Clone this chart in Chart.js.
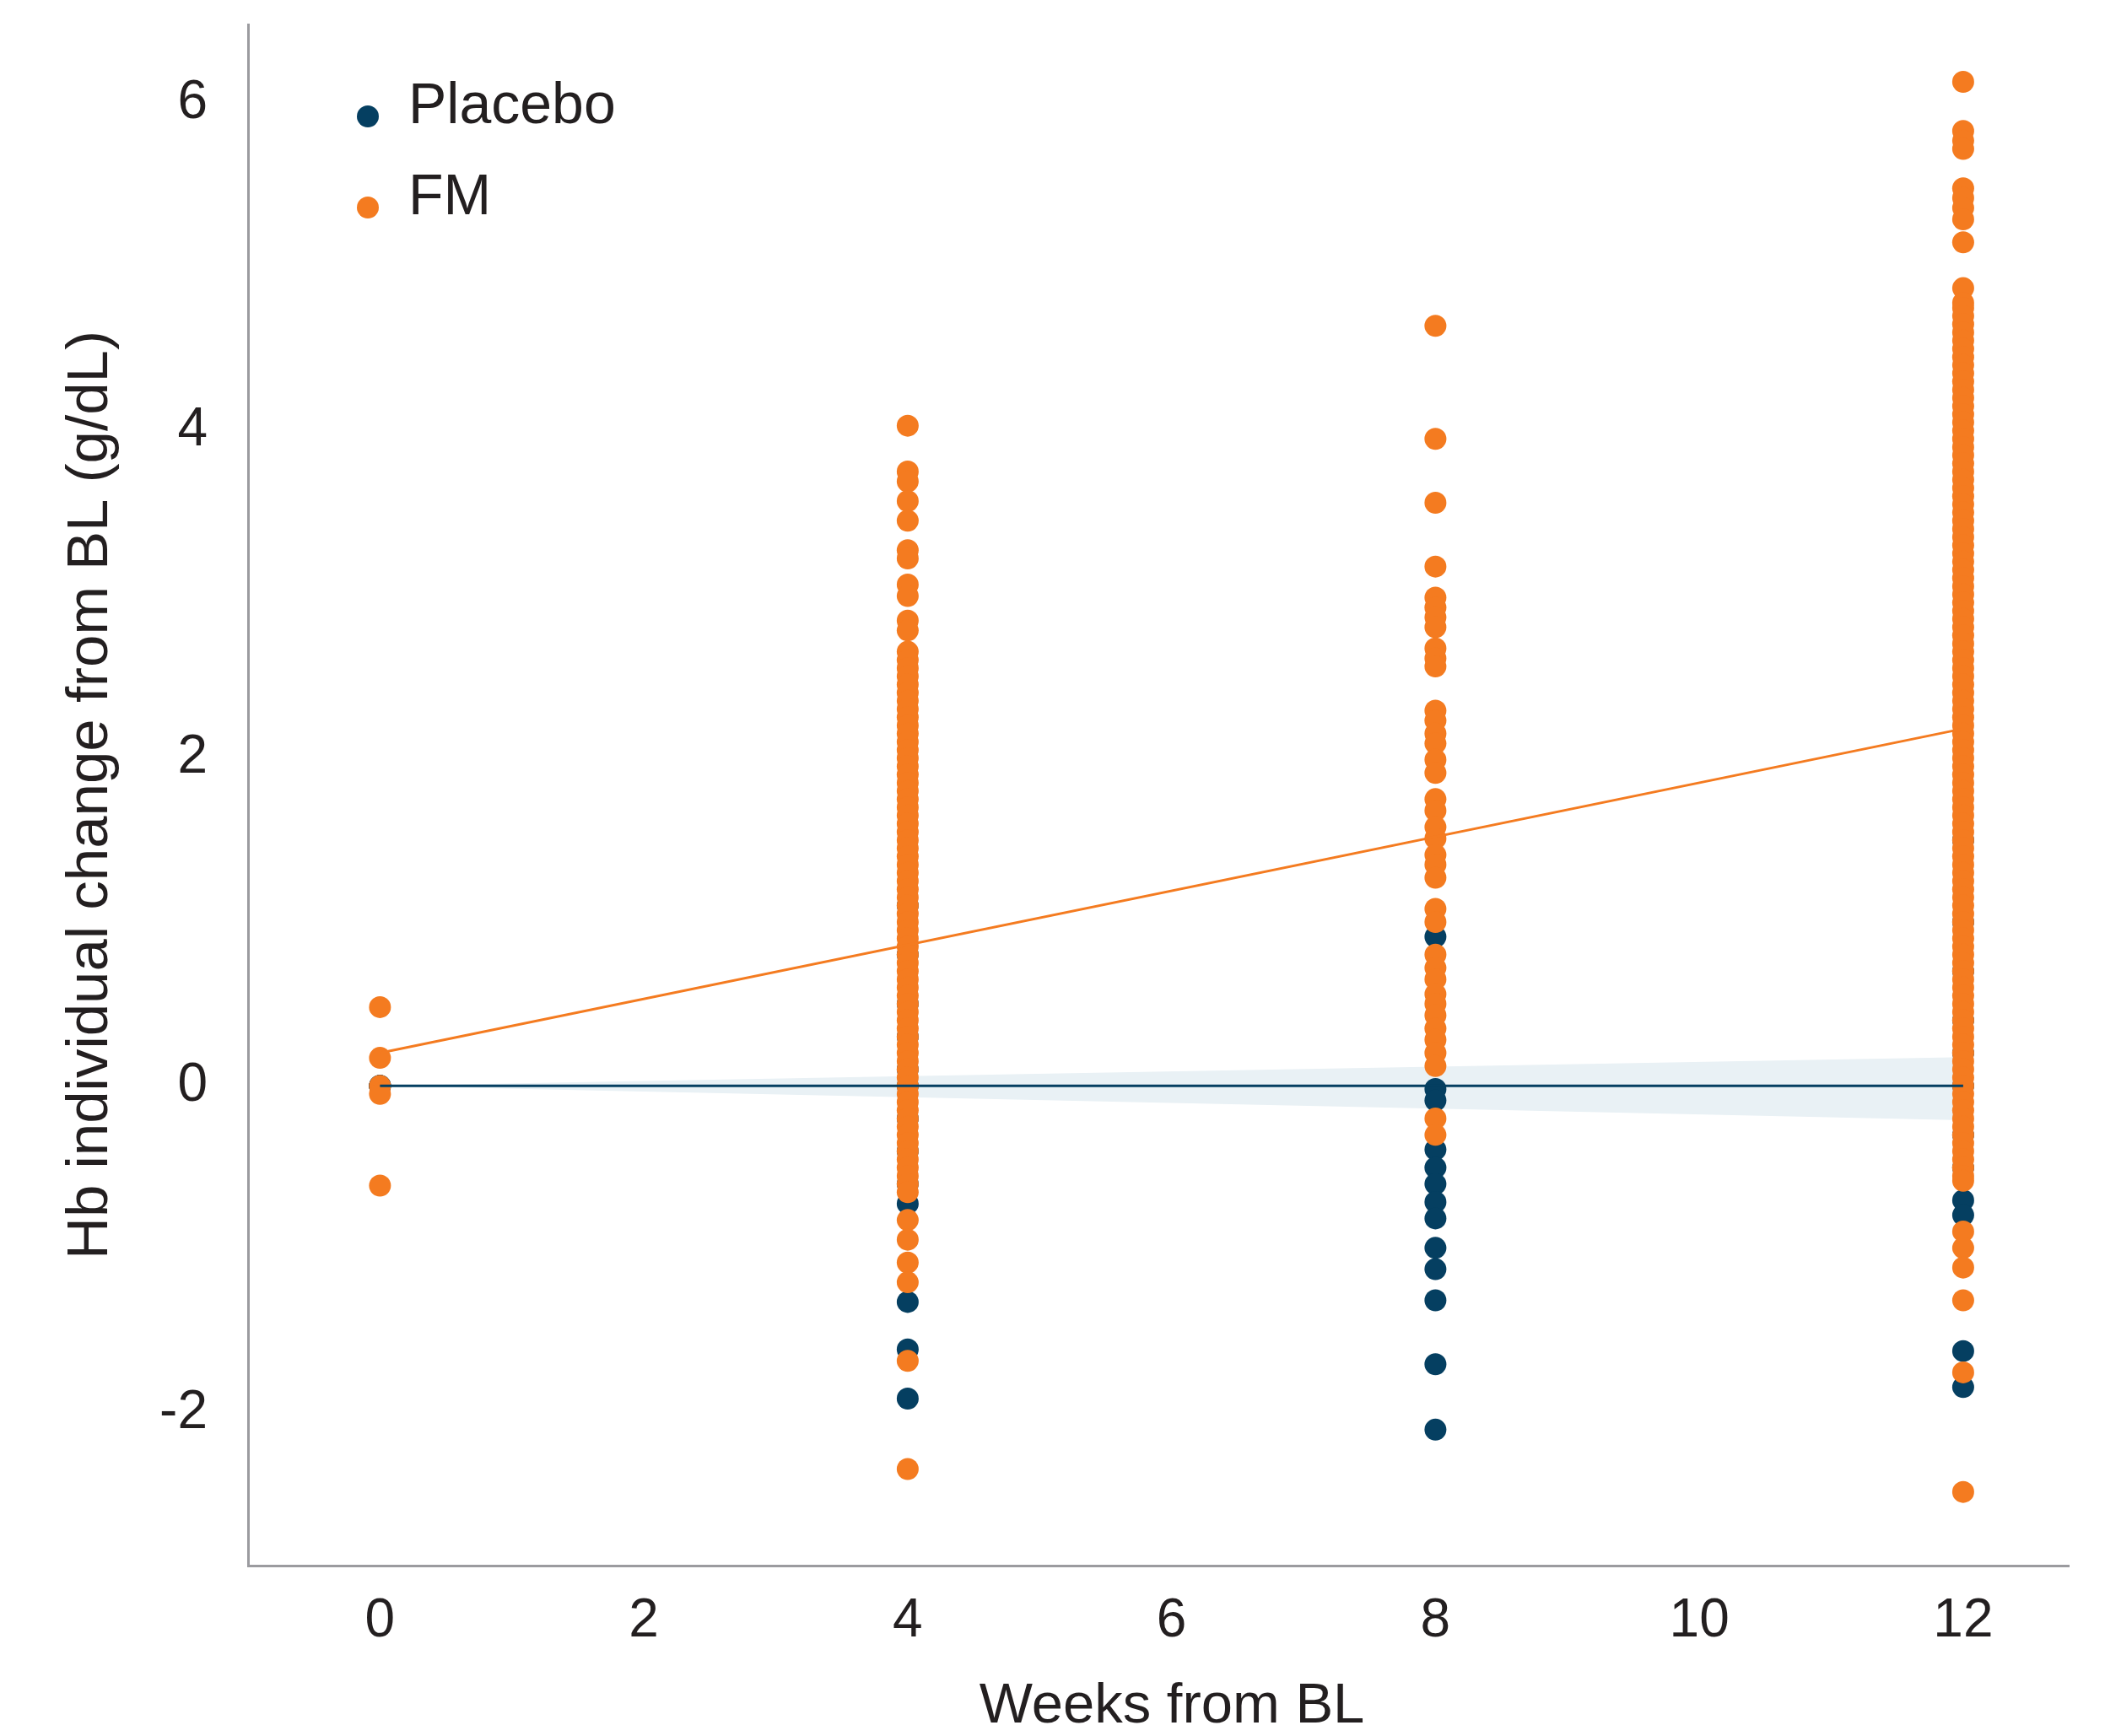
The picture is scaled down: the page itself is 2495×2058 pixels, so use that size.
<!DOCTYPE html>
<html>
<head>
<meta charset="utf-8">
<script src="https://cdn.jsdelivr.net/npm/chart.js@4.4.1/dist/chart.umd.min.js"></script>
<style>
  html, body { margin: 0; padding: 0; background: #ffffff; }
  canvas { display: block; }
</style>
</head>
<body>
<canvas id="chart" width="2495" height="2058"></canvas>
<script>
// ---------------- DATA ----------------
const xTicks = [0, 2, 4, 6, 8, 10, 12];
const yTicks = [-2, 0, 2, 4, 6];
const seriesLabels = ['Placebo', 'FM'];
const xTitle = 'Weeks from BL';
const yTitle = 'Hb individual change from BL (g/dL)';

// Individual Hb change from BL (g/dL) by visit week
const placeboWeek0 = [0, 0, 0];
const placeboWeek4 = [-0.72, -1.32, -1.61, -1.91, -0.6, -0.4, -0.2, 0.0, 0.1, 0.3, 0.5, 0.8, 1.1];
const placeboWeek8 = [0.91, -0.02, -0.09, -0.39, -0.50, -0.60, -0.71, -0.81, -0.99, -1.12, -1.31, -1.70, -2.10];
const placeboWeek12 = [-0.70, -0.79, -1.62, -1.84, -0.5, -0.3, 0.0, 0.2, 0.4, 0.7, 1.0, 1.5];

const fmWeek0 = [0.48, 0.17, 0.00, -0.05, -0.61];
const fmWeek4 = [4.03, 3.75, 3.69, 3.57, 3.45, 3.27, 3.22, 3.06, 2.99, 2.84, 2.78,
  2.65, 2.60, 2.55, 2.50, 2.45, 2.40, 2.35, 2.30, 2.25, 2.20, 2.15, 2.10, 2.05, 2.00,
  1.95, 1.90, 1.85, 1.80, 1.75, 1.70, 1.65, 1.60, 1.55, 1.50, 1.45, 1.40, 1.35, 1.30,
  1.25, 1.20, 1.15, 1.10, 1.05, 1.00, 0.95, 0.90, 0.85, 0.80, 0.75, 0.70, 0.65, 0.60,
  0.55, 0.50, 0.45, 0.40, 0.35, 0.30, 0.25, 0.20, 0.15, 0.10, 0.05, 0.00, -0.05, -0.10,
  -0.15, -0.20, -0.25, -0.30, -0.35, -0.40, -0.45, -0.50, -0.55, -0.60, -0.65,
  -0.82, -0.94, -1.08, -1.20, -1.68, -2.34];
const fmWeek8 = [4.64, 3.95, 3.56, 3.17, 2.98, 2.92, 2.86, 2.80, 2.67, 2.61, 2.56, 2.29,
  2.23, 2.15, 2.09, 1.99, 1.91, 1.75, 1.68, 1.58, 1.51, 1.41, 1.35, 1.27, 1.08, 1.00,
  0.80, 0.72, 0.65, 0.56, 0.50, 0.43, 0.35, 0.28, 0.20, 0.12, -0.20, -0.30];
const fmWeek12 = [6.13, 5.83, 5.77, 5.72, 5.48, 5.42, 5.36, 5.29, 5.15, 4.87, 4.78,
  4.75, 4.70, 4.65, 4.60, 4.55, 4.50, 4.45, 4.40, 4.35, 4.30, 4.25, 4.20, 4.15, 4.10,
  4.05, 4.00, 3.95, 3.90, 3.85, 3.80, 3.75, 3.70, 3.65, 3.60, 3.55, 3.50, 3.45, 3.40,
  3.35, 3.30, 3.25, 3.20, 3.15, 3.10, 3.05, 3.00, 2.95, 2.90, 2.85, 2.80, 2.75, 2.70,
  2.65, 2.60, 2.55, 2.50, 2.45, 2.40, 2.35, 2.30, 2.25, 2.20, 2.15, 2.10, 2.05, 2.00,
  1.95, 1.90, 1.85, 1.80, 1.75, 1.70, 1.65, 1.60, 1.55, 1.50, 1.45, 1.40, 1.35, 1.30,
  1.25, 1.20, 1.15, 1.10, 1.05, 1.00, 0.95, 0.90, 0.85, 0.80, 0.75, 0.70, 0.65, 0.60,
  0.55, 0.50, 0.45, 0.40, 0.35, 0.30, 0.25, 0.20, 0.15, 0.10, 0.05, 0.00, -0.05, -0.10,
  -0.15, -0.20, -0.25, -0.30, -0.35, -0.40, -0.45, -0.50, -0.55, -0.58,
  -0.89, -0.99, -1.11, -1.31, -1.75, -2.48];

// Fitted regression lines
const fitWeeks = [0, 12];
const fmFit = [0.20, 2.18];
const placeboFit = [0, 0];

// Placebo confidence band
const bandWeeks = [0, 4, 8, 12];
const placeboUpper = [0, 0.058, 0.116, 0.175];
const placeboLower = [0, -0.070, -0.140, -0.210];

// ---------------- STYLE ----------------
const BLUE = '#053f61';
const ORANGE = '#f47b20';
const BAND = '#e9f1f5';
const AXIS = '#9b9b9f';
const TEXT = '#231f20';
const FONT = '"Liberation Sans", Arial, Helvetica, sans-serif';

const pts = (week, ys) => ys.map(y => ({ x: week, y }));
const pairs = (xs, ys) => xs.map((x, i) => ({ x, y: ys[i] }));

const placeboPoints = [].concat(
  pts(0, placeboWeek0), pts(4, placeboWeek4), pts(8, placeboWeek8), pts(12, placeboWeek12));
const fmPoints = [].concat(
  pts(0, fmWeek0), pts(4, fmWeek4), pts(8, fmWeek8), pts(12, fmWeek12));

const annotations = {
  id: 'insetLegendAndTitle',
  afterDraw(chart) {
    const ctx = chart.ctx;
    const a = chart.chartArea;
    const items = chart.data.datasets.filter(d => seriesLabels.includes(d.label));
    ctx.save();
    ctx.font = '68px ' + FONT;
    ctx.textBaseline = 'alphabetic';
    ctx.textAlign = 'left';
    items.forEach((d, i) => {
      const cy = a.top + 109 + i * 108;
      const cx = a.left + 142;
      ctx.fillStyle = d.backgroundColor;
      ctx.beginPath();
      ctx.arc(cx, cy, 13, 0, Math.PI * 2);
      ctx.fill();
      ctx.fillStyle = TEXT;
      ctx.fillText(d.label, a.left + 190, cy + 8);
    });
    // x-axis title
    ctx.font = '67px ' + FONT;
    ctx.textAlign = 'center';
    ctx.fillStyle = TEXT;
    ctx.fillText(xTitle, (a.left + a.right) / 2 + 16, a.bottom + 186);
    ctx.restore();
  }
};

new Chart(document.getElementById('chart'), {
  type: 'scatter',
  data: {
    datasets: [
      { type: 'line', label: 'band-upper', data: pairs(bandWeeks, placeboUpper),
        borderWidth: 0, pointRadius: 0, fill: false, order: 5 },
      { type: 'line', label: 'band-lower', data: pairs(bandWeeks, placeboLower),
        borderWidth: 0, pointRadius: 0, fill: '-1', backgroundColor: BAND, order: 4 },
      { label: 'Placebo', data: placeboPoints, backgroundColor: BLUE,
        pointRadius: 13, borderWidth: 0, order: 3 },
      { label: 'FM', data: fmPoints, backgroundColor: ORANGE,
        pointRadius: 13, borderWidth: 0, order: 2 },
      { type: 'line', label: 'FM fit', data: pairs(fitWeeks, fmFit),
        borderColor: ORANGE, borderWidth: 3, pointRadius: 0, fill: false, order: 1 },
      { type: 'line', label: 'Placebo fit', data: pairs(fitWeeks, placeboFit),
        borderColor: BLUE, borderWidth: 3, pointRadius: 0, fill: false, order: 0 }
    ]
  },
  options: {
    responsive: false,
    devicePixelRatio: 1,
    animation: false,
    events: [],
    layout: { autoPadding: false, padding: { top: 29, right: 43, left: 0, bottom: 0 } },
    plugins: {
      legend: { display: false },
      tooltip: { enabled: false },
      filler: { drawTime: 'beforeDatasetsDraw' }
    },
    scales: {
      x: {
        type: 'linear',
        min: -1.0,
        max: 12.8,
        afterBuildTicks: s => { s.ticks = xTicks.map(v => ({ value: v })); },
        afterFit: s => { s.height = 202; s.paddingLeft = 0; s.paddingRight = 0; },
        grid: { display: false, drawTicks: false },
        border: { display: true, color: AXIS, width: 3 },
        ticks: { font: { family: FONT, size: 64 }, color: TEXT, padding: 28,
                 maxRotation: 0, autoSkip: false },
        title: { display: false, text: xTitle }
      },
      y: {
        type: 'linear',
        min: -2.93,
        max: 6.48,
        afterBuildTicks: s => { s.ticks = yTicks.map(v => ({ value: v })); },
        afterFit: s => { s.width = 294; s.paddingTop = 0; s.paddingBottom = 0; },
        grid: { display: false, drawTicks: false },
        border: { display: true, color: AXIS, width: 3 },
        ticks: { font: { family: FONT, size: 64 }, color: TEXT, padding: 48 },
        title: { display: true, text: yTitle, color: TEXT,
                 font: { family: FONT, size: 69 }, padding: { top: 67, bottom: 0 } }
      }
    }
  },
  plugins: [annotations]
});
</script>
</body>
</html>
